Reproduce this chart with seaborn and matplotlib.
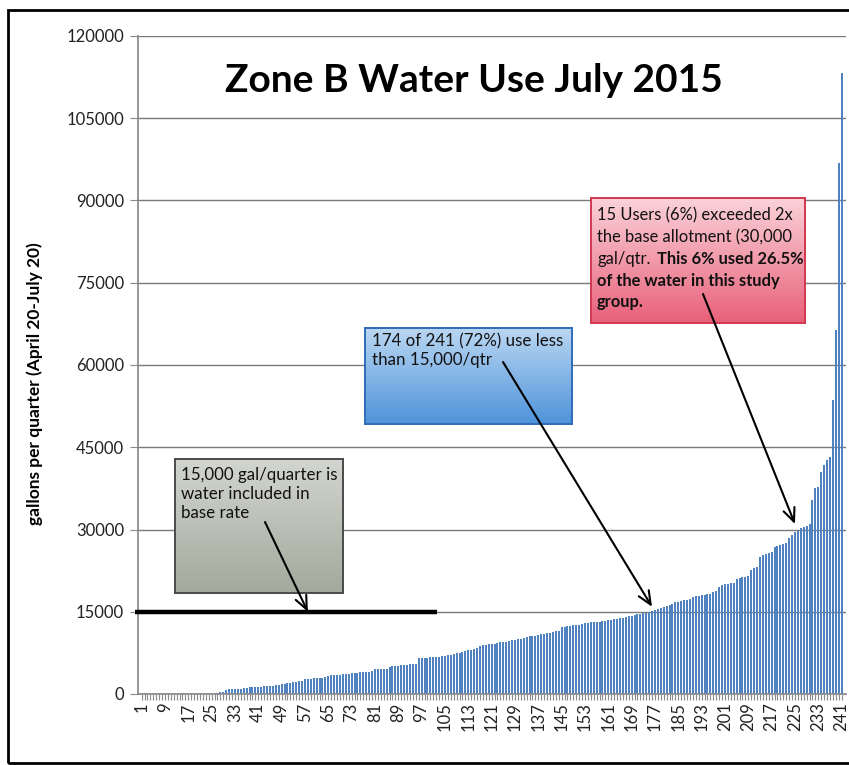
import numpy as np
import pandas as pd
import matplotlib
matplotlib.use("Agg")
import matplotlib.pyplot as plt
import seaborn as sns
from matplotlib.patches import Rectangle
from matplotlib.colors import LinearSegmentedColormap

# ---------------- data ----------------
usage = [
    0, 0, 0, 0, 0, 0, 0, 0, 0, 0,
    0, 0, 0, 0, 0, 0, 0, 0, 0, 0,
    0, 0, 0, 0, 0, 0,
    250, 400, 450,
    800, 850, 900, 950, 1000, 1000, 1050,
    1150, 1200, 1200, 1250, 1250, 1300,
    1400, 1450, 1500, 1550, 1600, 1650,
    1800, 1900, 2000, 2050, 2100, 2200, 2300, 2400,
    2700, 2750, 2800, 2850, 2900, 2950, 3000, 3100, 3200,
    3400, 3450, 3500, 3550, 3600, 3650, 3700,
    3800, 3850, 3900, 4000, 4050, 4100, 4100, 4200,
    4500, 4550, 4600, 4600, 4650,
    5000, 5050, 5100, 5100, 5200, 5250, 5300, 5400, 5450, 5500,
    6500, 6550, 6600, 6650, 6700, 6700, 6750, 6800, 6850,
    7000, 7100, 7200, 7300, 7400, 7500, 7600,
    7900, 8000, 8100, 8200, 8300,
    8800, 8900, 9000, 9050, 9100, 9150,
    9300, 9400, 9500, 9550, 9600,
    9800, 9900, 10000, 10100,
    10300, 10400, 10500, 10550, 10600, 10700,
    10900, 11000, 11100, 11200, 11300, 11400, 11500,
    12200, 12300, 12400, 12450, 12500, 12550, 12600, 12700,
    12900, 13000, 13050, 13100, 13150, 13200, 13300, 13400,
    13500, 13550, 13600, 13700, 13800, 13900,
    14100, 14200, 14300, 14400, 14500,
    14600, 14700, 14800, 15000, 15100,
    15300, 15500, 15700, 15900,
    16100, 16300, 16500, 16700, 16800,
    17000, 17100, 17200, 17300,
    17700, 17800, 17900, 18000, 18100, 18200, 18300,
    18600, 18800,
    19600, 19800, 20000, 20100, 20200, 20300,
    21000, 21200, 21300, 21400, 21500,
    22600, 22900, 23100,
    25000, 25300, 25500, 25700, 25900,
    26800, 27000, 27200, 27400, 27600,
    28500, 29000, 29500, 29800,
    30200, 30400, 30600, 31000,
    35400, 37500, 37800, 40500, 41700, 42700, 43300,
    53600, 66300, 96800, 113300,
]
users = list(range(1, len(usage) + 1))
y_ticks = [0, 15000, 30000, 45000, 60000, 75000, 90000, 105000, 120000]
x_tick_users = users[::8]

title = "Zone B Water Use July 2015"
y_label = "gallons per quarter (April 20-July 20)"
gray_text = "15,000 gal/quarter is\nwater included in\nbase rate"
blue_text = "174 of 241 (72%) use less\nthan 15,000/qtr"
base_allotment = 15000

# ---------------- style ----------------
sns.set_theme(style="white")
plt.rcParams["font.family"] = ["Lato", "DejaVu Sans"]

W, H = 849, 765
def fx(x):
    return x / W
def fy(y):
    return 1 - y / H

fig = plt.figure(figsize=(W / 100, H / 100), dpi=100)
fig.patch.set_facecolor("white")

ax = fig.add_axes([fx(138), fy(694), fx(846) - fx(138), fy(36) - fy(694)])
df = pd.DataFrame({"user": users, "gallons": usage})
sns.barplot(data=df, x="user", y="gallons", color="#4F82BE", saturation=1,
            width=0.68, linewidth=0, ax=ax)

ax.set_xlim(-1.23, 241.5)
ax.set_ylim(0, 120000)
ax.set_yticks(y_ticks)
ax.set_yticklabels([str(v) for v in y_ticks], fontsize=12, color="#222222")
ax.set_xticks([u - 1 for u in x_tick_users])
ax.set_xticklabels([str(u) for u in x_tick_users], rotation=90, fontsize=12,
                   color="#222222")
ax.set_xticks(range(len(users)), minor=True)
ax.tick_params(axis="x", which="both", length=4, width=0.8, color="#8a8a8a",
               direction="out", bottom=True, pad=2)
ax.tick_params(axis="y", length=6, width=0.8, color="#8a8a8a", direction="out",
               left=True, pad=4)
ax.set_xlabel("")
ax.set_ylabel("")
ax.yaxis.grid(True, color="#7a7a7a", linewidth=1.0)
ax.xaxis.grid(False)
ax.set_axisbelow(True)
for s in ["top", "right"]:
    ax.spines[s].set_visible(False)
ax.spines["left"].set_color("#8a8a8a")
ax.spines["bottom"].set_color("#8a8a8a")

# thick base-rate line
ax.plot([-2.3, 101.3], [base_allotment, base_allotment], color="black", lw=3.2,
        solid_capstyle="butt", clip_on=False, zorder=4)

# ---------------- gradient boxes ----------------
def grad_box(x0, y0, x1, y1, ctop, cbot, edge):
    bax = fig.add_axes([fx(x0), fy(y1), fx(x1) - fx(x0), fy(y0) - fy(y1)], zorder=2)
    cmap = LinearSegmentedColormap.from_list("g", [ctop, cbot])
    grad = np.linspace(0, 1, 256).reshape(-1, 1)
    bax.imshow(grad, aspect="auto", cmap=cmap, extent=[0, 1, 0, 1], origin="upper")
    bax.set_xticks([])
    bax.set_yticks([])
    for s in bax.spines.values():
        s.set_color(edge)
        s.set_linewidth(1.4)
    return bax

grad_box(175, 459, 343, 593, "#D3D6D0", "#A3A99C", "#4a4a4a")
grad_box(365, 328, 572, 424, "#BAD7F2", "#4F93DA", "#2E6CB8")
grad_box(591, 198, 805, 323, "#FBD3D9", "#E8607A", "#D0384E")

txt_kw = dict(fontsize=12.2, color="#111111", zorder=6)
fig.text(fx(181), fy(467), gray_text, va="top", ha="left", linespacing=1.22, **txt_kw)
fig.text(fx(372), fy(333), blue_text, va="top", ha="left", linespacing=1.22, **txt_kw)

pink_kw = dict(fontsize=11.9, color="#111111", zorder=6)
pink_y = [215, 237, 259, 281, 302]
fig.text(fx(597), fy(pink_y[0]), "15 Users (6%) exceeded 2x", va="center", ha="left", **pink_kw)
fig.text(fx(597), fy(pink_y[1]), "the base allotment (30,000", va="center", ha="left", **pink_kw)
t3 = fig.text(fx(597), fy(pink_y[2]), "gal/qtr.", va="center", ha="left", **pink_kw)
fig.add_artist(matplotlib.text.Annotation(
    "This 6% used 26.5%", xy=(1, 0.5), xycoords=t3, xytext=(4.5, 0),
    textcoords="offset points", va="center", ha="left", fontweight="bold", **pink_kw))
fig.text(fx(597), fy(pink_y[3]), "of the water in this study", va="center", ha="left",
         fontweight="bold", **pink_kw)
fig.text(fx(597), fy(pink_y[4]), "group.", va="center", ha="left",
         fontweight="bold", **pink_kw)

# ---------------- arrows (overlay) ----------------
ov = fig.add_axes([0, 0, 1, 1], zorder=8)
ov.axis("off")
ov.patch.set_alpha(0)
arrow_kw = dict(arrowstyle="->,head_length=0.8,head_width=0.35", lw=1.5,
                color="black", shrinkA=0, shrinkB=0)
for tail, head in [((265, 522), (57, base_allotment)),
                   ((503, 362), (175, 15900)),
                   ((703, 294), (224, 31000))]:
    ov.annotate("", xy=head, xycoords=ax.transData,
                xytext=(fx(tail[0]), fy(tail[1])), textcoords="figure fraction",
                arrowprops=arrow_kw, annotation_clip=False)

# ---------------- title, axis label, frame ----------------
fig.text(fx(474), fy(80), title, ha="center", va="center", fontsize=28,
         fontweight="bold", color="black", zorder=6)
fig.text(fx(35), fy(384), y_label, ha="center", va="center", rotation=90,
         fontsize=12.5, fontweight="bold", color="black")
fig.add_artist(Rectangle((fx(8), fy(763)), 1.2, fy(10) - fy(763),
                         transform=fig.transFigure, fill=False,
                         edgecolor="black", lw=2))

fig.savefig("out.png", dpi=100)
